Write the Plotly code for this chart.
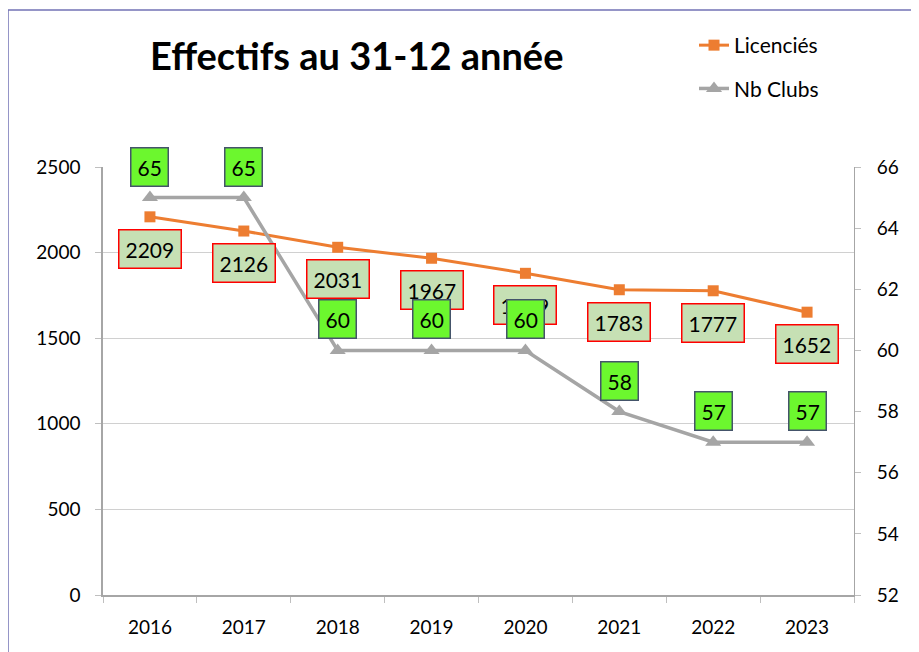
import plotly.graph_objects as go

# données
annees = ['2016', '2017', '2018', '2019', '2020', '2021', '2022', '2023']
licencies = [2209, 2126, 2031, 1967, 1879, 1783, 1777, 1652]
nb_clubs = [65, 65, 60, 60, 60, 58, 57, 57]

ORANGE = '#ED7D31'
GRIS = '#A5A5A5'
FONT = 'Lato'

# la page html décale la figure de 8 px (marge du body)
OFF = 8
W, H = 919, 652
L, T = 103 - OFF, 167 - OFF
R, B = W - (854 - OFF), H - (595 - OFF)
pw, ph = W - L - R, H - T - B


def px_x(x):
    return (x - OFF - L) / pw


def px_y(y):
    return (H - B - (y - OFF)) / ph


def get_annotations():
    """
    Étiquettes de données : encadrés rouges pour les licenciés,
    encadrés verts pour les clubs (au-dessus).
    """
    notes = []
    for i, val in enumerate(licencies):
        notes.append(dict(
            x=i, y=val, xref='x', yref='y', text=str(val),
            showarrow=False, yshift=-32,
            bgcolor='#C6E0B4', bordercolor='#FF0000', borderwidth=1.5,
            borderpad=6, font=dict(size=21, color='black', family=FONT),
        ))
    for i, val in enumerate(nb_clubs):
        notes.append(dict(
            x=i, y=val, xref='x', yref='y2', text=str(val),
            showarrow=False, yshift=31,
            bgcolor='#6CF72E', bordercolor='#44546A', borderwidth=1.5,
            borderpad=6, font=dict(size=21, color='black', family=FONT),
        ))
    notes.append(dict(
        x=px_x(356), y=px_y(55), xref='paper', yref='paper',
        xanchor='center', yanchor='middle',
        text='<b>Effectifs au 31-12 année</b>',
        showarrow=False, font=dict(size=38, color='black', family=FONT),
    ))
    return notes


fig = go.Figure()
fig.add_trace(go.Scatter(
    x=annees, y=licencies, name='Licenciés', mode='lines+markers',
    line=dict(color=ORANGE, width=3),
    marker=dict(symbol='square', size=11, color=ORANGE),
    legendgroup='a',
))
fig.add_trace(go.Scatter(
    x=annees, y=nb_clubs, name='Nb Clubs', mode='lines+markers', yaxis='y2',
    line=dict(color=GRIS, width=3.5),
    marker=dict(symbol='triangle-up', size=14, color=GRIS),
    legendgroup='b',
))

fig.update_layout(
    width=W, height=H,
    margin=dict(l=L, r=R, t=T, b=B),
    paper_bgcolor='white', plot_bgcolor='white',
    font=dict(family=FONT, size=19, color='black'),
    annotations=get_annotations(),
    showlegend=True,
    legend=dict(
        x=px_x(694), y=px_y(25), xanchor='left', yanchor='top',
        font=dict(size=21, family=FONT), tracegroupgap=13,
        bgcolor='rgba(0,0,0,0)',
    ),
    xaxis=dict(
        type='category', range=[-0.5, 7.5],
        showline=True, linecolor='#A6A6A6', linewidth=1.5,
        ticks='outside', tickson='boundaries', ticklen=6, tickcolor='#BFBFBF',
        showgrid=False, ticklabelstandoff=14,
    ),
    yaxis=dict(
        range=[0, 2500], dtick=500,
        showline=True, linecolor='#A6A6A6', linewidth=1.5,
        ticks='outside', ticklen=6, tickcolor='#BFBFBF',
        showgrid=True, gridcolor='#D0D0D0', gridwidth=1,
        zeroline=False, ticklabelstandoff=11,
    ),
    yaxis2=dict(
        range=[52, 66], dtick=2, overlaying='y', side='right',
        showline=True, linecolor='#A6A6A6', linewidth=1,
        ticks='outside', ticklen=6, tickcolor='#BFBFBF',
        showgrid=False, zeroline=False, ticklabelstandoff=12,
    ),
    shapes=[dict(
        type='rect', xref='paper', yref='paper',
        x0=px_x(8), x1=1.3, y0=-0.3, y1=px_y(10),
        line=dict(color='#7373B5', width=1.5), fillcolor='rgba(0,0,0,0)',
        layer='below',
    )],
)

fig.write_html('out.html')
